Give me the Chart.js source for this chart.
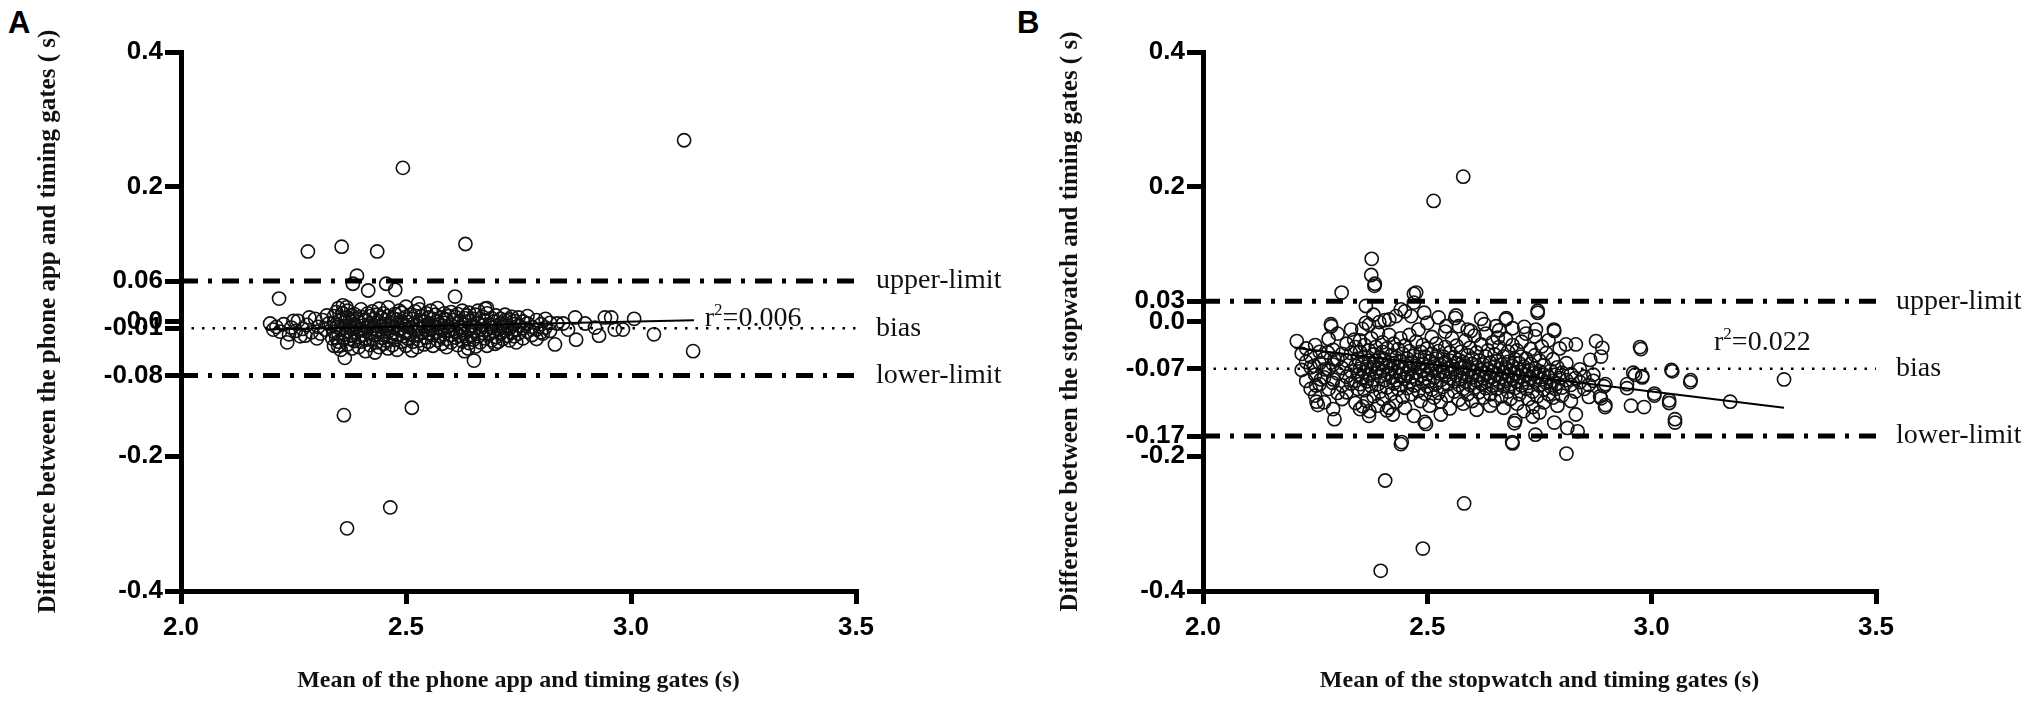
<!DOCTYPE html>
<html>
<head>
<meta charset="utf-8">
<script src="https://cdn.jsdelivr.net/npm/chart.js@4.4.1/dist/chart.umd.min.js"></script>
<style>
  html, body { margin: 0; padding: 0; background: #fff; }
  body { width: 2033px; height: 704px; position: relative; overflow: hidden; }
  .panel { position: absolute; top: 0; }
  .tag { position: absolute; top: 7px; font: bold 31px 'Liberation Sans', Arial, sans-serif; line-height: 31px; color: #000; }
</style>
</head>
<body>
<div class="tag" style="left:8px">A</div>
<div class="tag" style="left:1017px">B</div>
<div class="panel" style="left:0px"><canvas id="cA" width="1016" height="704"></canvas></div>
<div class="panel" style="left:1022px"><canvas id="cB" width="1011" height="704"></canvas></div>
<script>
// ---------------- DATA ----------------
const xTicks = [2.0, 2.5, 3.0, 3.5];
const xTickLabels = ['2.0', '2.5', '3.0', '3.5'];

const phoneTicks = [-0.4, -0.2, -0.08, -0.01, 0.0, 0.06, 0.2, 0.4];
const phoneTickLabels = ['-0.4', '-0.2', '-0.08', '-0.01', '0.0', '0.06', '0.2', '0.4'];
const stopTicks = [-0.4, -0.2, -0.17, -0.07, 0.0, 0.03, 0.2, 0.4];
const stopTickLabels = ['-0.4', '-0.2', '-0.17', '-0.07', '0.0', '0.03', '0.2', '0.4'];

const limitNames = ['upper-limit', 'bias', 'lower-limit'];
const phoneLimits = [0.06, -0.01, -0.08];
const stopLimits = [0.03, -0.07, -0.17];

const phoneFitX = [2.19, 3.14];
const phoneFitY = [-0.012, 0.002];
const stopFitX = [2.204, 3.295];
const stopFitY = [-0.039, -0.128];

const phoneR2 = 'r2=0.006';
const stopR2 = 'r2=0.022';

// Panel A: mean of phone app and timing gates vs difference
const phonePoints = [
  [3.118,0.269],[2.493,0.228],[2.282,0.104],[2.357,0.111],[2.436,0.104],[2.632,0.115],
  [2.391,0.068],[2.382,0.056],[2.416,0.046],[2.456,0.056],[2.476,0.047],[2.218,0.034],
  [2.609,0.037],[2.362,-0.139],[2.513,-0.128],[2.465,-0.276],[2.369,-0.307],[2.651,-0.058],
  [2.364,-0.054],[3.138,-0.044],[3.051,-0.019],[3.007,0.004],[2.942,0.006],[2.956,0.006],
  [2.876,0.006],[2.836,-0.003],[2.849,-0.003],[2.831,-0.034],[2.878,-0.027],[2.929,-0.021],
  [2.982,-0.012],[2.964,-0.012],[2.898,-0.003],[2.86,-0.012],[2.804,-0.018],[2.92,-0.009],
  [2.527,0.027],[2.368,0.021],[2.358,0.012],[2.676,0.019],[2.431,-0.046],[2.513,-0.043],
  [2.638,-0.040],[2.698,-0.033],[2.58,-0.033],[2.349,-0.036],[2.336,-0.025],
  [2.198,-0.003],[2.205,-0.012],[2.212,-0.008],[2.22,-0.015],[2.228,-0.004],[2.236,-0.031],
  [2.24,-0.019],[2.245,-0.009],[2.25,0.001],[2.255,-0.014],[2.26,0.001],[2.265,-0.022],
  [2.27,-0.011],[2.276,-0.021],[2.28,-0.005],[2.285,0.006],[2.29,-0.016],[2.298,0.004],
  [2.302,-0.025],[2.305,-0.008],[2.31,-0.018],[2.315,0.002],[2.32,-0.012],[2.324,0.009],
  [2.328,-0.003],
  [2.34,-0.036],[2.34,-0.015],[2.34,-0.002],[2.34,0.008],
  [2.345,-0.024],[2.345,-0.008],[2.345,0.014],
  [2.35,-0.030],[2.35,-0.018],[2.35,-0.005],[2.35,0.020],
  [2.355,-0.042],[2.355,-0.012],[2.355,0.003],
  [2.36,-0.025],[2.36,-0.009],[2.36,0.012],[2.36,0.024],
  [2.365,-0.019],[2.365,-0.001],
  [2.37,-0.034],[2.37,-0.014],[2.37,0.006],[2.37,0.016],
  [2.375,-0.026],[2.375,-0.007],[2.375,0.002],
  [2.38,-0.040],[2.38,-0.020],[2.38,-0.011],[2.38,0.009],
  [2.385,-0.029],[2.385,-0.004],[2.385,0.011],
  [2.39,-0.016],[2.39,-0.008],[2.39,0.004],
  [2.395,-0.038],[2.395,-0.023],[2.395,-0.001],
  [2.40,-0.030],[2.40,-0.012],[2.40,0.007],[2.40,0.018],
  [2.405,-0.020],[2.405,-0.006],
  [2.41,-0.044],[2.41,-0.027],[2.41,-0.014],[2.41,0.003],
  [2.415,-0.009],[2.415,0.012],
  [2.42,-0.035],[2.42,-0.018],[2.42,-0.003],[2.42,0.008],
  [2.425,-0.025],[2.425,-0.011],[2.425,0.015],
  [2.43,-0.020],[2.43,-0.006],[2.43,0.004],
  [2.435,-0.031],[2.435,-0.013],[2.435,0.010],
  [2.44,-0.038],[2.44,-0.016],[2.44,-0.001],[2.44,0.019],
  [2.445,-0.024],[2.445,-0.008],[2.445,0.006],
  [2.45,-0.033],[2.45,-0.019],[2.45,-0.004],[2.45,0.012],
  [2.455,-0.028],[2.455,-0.011],[2.455,0.002],
  [2.46,-0.040],[2.46,-0.015],[2.46,-0.006],[2.46,0.008],[2.46,0.021],
  [2.465,-0.023],[2.465,-0.002],
  [2.47,-0.035],[2.47,-0.017],[2.47,-0.009],[2.47,0.005],
  [2.475,-0.027],[2.475,0.011],
  [2.48,-0.042],[2.48,-0.020],[2.48,-0.005],[2.48,0.003],
  [2.485,-0.013],[2.485,0.016],
  [2.49,-0.030],[2.49,-0.010],[2.49,0.000],[2.49,0.013],
  [2.495,-0.022],[2.495,-0.004],
  [2.50,-0.036],[2.50,-0.016],[2.50,-0.007],[2.50,0.007],[2.50,0.022],
  [2.505,-0.026],[2.505,-0.001],
  [2.51,-0.019],[2.51,-0.009],[2.51,0.010],
  [2.515,-0.030],[2.515,-0.004],[2.515,0.004],
  [2.52,-0.014],[2.52,0.015],
  [2.525,-0.038],[2.525,-0.021],[2.525,-0.006],
  [2.53,-0.028],[2.53,-0.011],[2.53,0.002],[2.53,0.018],
  [2.535,-0.017],[2.535,0.008],
  [2.54,-0.034],[2.54,-0.008],[2.54,0.000],
  [2.545,-0.024],[2.545,-0.013],[2.545,0.012],
  [2.55,-0.030],[2.55,-0.018],[2.55,-0.003],[2.55,0.006],
  [2.555,-0.010],[2.555,0.016],
  [2.56,-0.036],[2.56,-0.020],[2.56,-0.006],[2.56,0.004],
  [2.565,-0.015],[2.565,0.010],
  [2.57,-0.028],[2.57,-0.009],[2.57,0.000],[2.57,0.020],
  [2.575,-0.022],[2.575,-0.004],
  [2.58,-0.013],[2.58,0.006],
  [2.585,-0.019],[2.585,-0.002],[2.585,0.012],
  [2.59,-0.038],[2.59,-0.026],[2.59,-0.008],[2.59,0.003],
  [2.595,-0.014],[2.595,0.008],
  [2.60,-0.031],[2.60,-0.020],[2.60,-0.005],[2.60,0.014],
  [2.605,-0.011],[2.605,0.002],
  [2.61,-0.024],[2.61,-0.016],[2.61,0.007],
  [2.615,-0.035],[2.615,-0.003],[2.615,0.011],
  [2.62,-0.021],[2.62,-0.009],[2.62,0.000],
  [2.625,-0.029],[2.625,-0.013],[2.625,0.016],
  [2.63,-0.044],[2.63,-0.018],[2.63,-0.005],[2.63,0.005],
  [2.635,-0.025],[2.635,0.009],
  [2.64,-0.032],[2.64,-0.011],[2.64,0.001],[2.64,0.013],
  [2.645,-0.020],[2.645,-0.006],
  [2.65,-0.027],[2.65,-0.014],[2.65,0.004],
  [2.655,-0.037],[2.655,-0.009],[2.655,0.010],
  [2.66,-0.022],[2.66,-0.002],[2.66,0.016],
  [2.665,-0.031],[2.665,-0.012],
  [2.67,-0.017],[2.67,-0.006],[2.67,0.007],
  [2.675,-0.025],[2.675,0.002],
  [2.68,-0.036],[2.68,-0.012],[2.68,0.012],[2.68,0.020],
  [2.685,-0.019],[2.685,-0.004],
  [2.69,-0.028],[2.69,-0.009],[2.69,0.005],
  [2.695,-0.015],[2.695,0.000],
  [2.70,-0.023],[2.70,-0.007],[2.70,0.009],
  [2.705,-0.030],[2.705,-0.012],
  [2.71,-0.018],[2.71,-0.003],[2.71,0.004],
  [2.715,-0.026],[2.715,-0.009],
  [2.72,-0.014],[2.72,0.002],[2.72,0.010],
  [2.725,-0.021],[2.725,-0.006],
  [2.73,-0.028],[2.73,-0.010],[2.73,0.003],
  [2.735,-0.016],[2.735,0.007],
  [2.74,-0.022],[2.74,-0.004],[2.74,0.001],
  [2.745,-0.012],[2.745,-0.031],
  [2.75,-0.018],[2.75,-0.006],[2.75,0.006],
  [2.76,-0.025],[2.76,-0.010],[2.76,0.000],
  [2.77,-0.015],[2.77,-0.003],[2.77,0.008],
  [2.78,-0.020],[2.78,-0.008],
  [2.79,-0.012],[2.79,0.002],[2.79,-0.026],
  [2.80,-0.016],[2.80,-0.004],
  [2.81,-0.009],[2.81,0.004],
  [2.82,-0.014],[2.82,-0.002]
];

// Panel B: mean of stopwatch and timing gates vs difference
const stopPoints = [
  [2.580,0.215],[2.514,0.179],[2.376,0.093],[2.375,0.069],[2.383,0.056],[2.309,0.043],
  [2.470,0.041],[2.475,0.043],[2.382,0.053],[2.406,-0.236],[2.582,-0.270],[2.490,-0.337],
  [2.396,-0.370],[2.810,-0.196],[2.443,-0.179],[2.441,-0.182],[2.689,-0.179],[2.741,-0.168],
  [2.494,-0.149],[2.293,-0.145],[2.696,-0.147],[2.209,-0.029],[2.253,-0.119],[2.256,-0.124],
  [2.252,-0.095],[2.300,-0.106],[2.285,-0.004],[2.286,-0.007],[2.974,-0.038],[3.044,-0.072],
  [3.087,-0.087],[3.052,-0.145],[3.039,-0.117],[2.954,-0.125],[3.006,-0.107],[2.959,-0.076],
  [2.979,-0.081],[2.945,-0.093],[2.897,-0.124],[2.885,-0.111],[2.897,-0.093],[2.782,-0.012],
  [2.746,0.016],[2.716,-0.008],[2.676,0.005],[2.564,0.009],[3.295,-0.086],[3.175,-0.119],
  [3.086,-0.090],[3.046,-0.074],[3.052,-0.150],[3.039,-0.121],[2.983,-0.127],[3.006,-0.110],
  [2.976,-0.041],[2.963,-0.079],[2.979,-0.083],[2.945,-0.099],[2.894,-0.096],[2.887,-0.114],
  [2.896,-0.127],[2.863,-0.057],[2.887,-0.052],[2.876,-0.029],[2.890,-0.039],[2.809,-0.034],
  [2.831,-0.034],[2.783,-0.014],[2.831,-0.138],[2.812,-0.158],[2.835,-0.163],[2.783,-0.150],
  [2.746,0.013],[2.497,-0.152],[2.530,-0.138],[2.562,0.005],[2.675,0.003],[2.627,-0.004],
  [2.653,-0.007],[2.690,-0.181],[2.694,-0.151],[2.742,-0.012],[2.735,-0.141],[2.337,-0.027],
  [2.363,-0.002],[2.393,-0.001],[2.415,0.003],[2.441,0.018],[2.464,0.008],[2.363,0.023],
  [2.493,0.013],[2.542,-0.007],[2.597,-0.014],[2.657,-0.024],[2.709,-0.052],[2.278,-0.046],
  [2.293,-0.056],[2.248,-0.066],[2.271,-0.071],[2.263,-0.086],[2.289,-0.091],[2.356,-0.126],
  [2.371,-0.133],[2.415,-0.128],[2.423,-0.138],
  [2.22,-0.048],[2.22,-0.072],
  [2.23,-0.060],[2.23,-0.088],[2.23,-0.040],
  [2.24,-0.052],[2.24,-0.100],[2.24,-0.068],
  [2.25,-0.079],[2.25,-0.035],[2.25,-0.110],
  [2.26,-0.062],[2.26,-0.045],[2.26,-0.093],
  [2.27,-0.083],[2.27,-0.055],[2.27,-0.120],
  [2.28,-0.071],[2.28,-0.026],[2.28,-0.100],
  [2.29,-0.064],[2.29,-0.086],[2.29,-0.042],[2.29,-0.130],
  [2.30,-0.077],[2.30,-0.056],[2.30,-0.018],
  [2.31,-0.069],[2.31,-0.095],[2.31,-0.048],[2.31,-0.115],
  [2.32,-0.058],[2.32,-0.082],[2.32,-0.033],[2.32,-0.105],
  [2.33,-0.074],[2.33,-0.047],[2.33,-0.092],[2.33,-0.012],
  [2.34,-0.066],[2.34,-0.088],[2.34,-0.038],[2.34,-0.121],
  [2.345,-0.055],[2.345,-0.079],[2.345,-0.100],
  [2.35,-0.070],[2.35,-0.028],[2.35,-0.045],[2.35,-0.093],[2.35,-0.130],
  [2.355,-0.062],[2.355,-0.084],[2.355,-0.011],
  [2.36,-0.075],[2.36,-0.052],[2.36,-0.102],[2.36,-0.035],
  [2.365,-0.067],[2.365,-0.089],[2.365,-0.118],
  [2.37,-0.058],[2.37,-0.043],[2.37,-0.080],[2.37,-0.005],[2.37,-0.140],
  [2.375,-0.071],[2.375,-0.096],[2.375,-0.025],
  [2.38,-0.063],[2.38,-0.086],[2.38,-0.049],[2.38,-0.111],[2.38,0.010],
  [2.385,-0.076],[2.385,-0.038],[2.385,-0.058],
  [2.39,-0.069],[2.39,-0.093],[2.39,-0.017],[2.39,-0.125],
  [2.395,-0.081],[2.395,-0.053],[2.395,-0.104],
  [2.40,-0.064],[2.40,-0.073],[2.40,-0.045],[2.40,-0.031],[2.40,-0.115],
  [2.405,-0.087],[2.405,-0.056],[2.405,0.002],
  [2.41,-0.068],[2.41,-0.098],[2.41,-0.040],[2.41,-0.132],
  [2.415,-0.077],[2.415,-0.061],[2.415,-0.020],
  [2.42,-0.083],[2.42,-0.050],[2.42,-0.107],[2.42,-0.070],
  [2.425,-0.062],[2.425,-0.092],[2.425,-0.033],
  [2.43,-0.075],[2.43,-0.054],[2.43,-0.119],[2.43,-0.087],[2.43,0.008],
  [2.435,-0.068],[2.435,-0.041],[2.435,-0.100],
  [2.44,-0.080],[2.44,-0.059],[2.44,-0.094],[2.44,-0.025],
  [2.445,-0.071],[2.445,-0.112],[2.445,-0.048],
  [2.45,-0.064],[2.45,-0.085],[2.45,-0.036],[2.45,-0.128],[2.45,0.015],
  [2.455,-0.077],[2.455,-0.055],[2.455,-0.099],
  [2.46,-0.070],[2.46,-0.090],[2.46,-0.044],[2.46,-0.020],
  [2.465,-0.082],[2.465,-0.061],[2.465,-0.108],
  [2.47,-0.066],[2.47,-0.051],[2.47,-0.095],[2.47,0.028],[2.47,-0.140],
  [2.475,-0.076],[2.475,-0.030],[2.475,-0.086],
  [2.48,-0.069],[2.48,-0.057],[2.48,-0.103],[2.48,-0.012],
  [2.485,-0.080],[2.485,-0.045],[2.485,-0.118],
  [2.49,-0.063],[2.49,-0.091],[2.49,-0.073],[2.49,-0.035],
  [2.495,-0.084],[2.495,-0.052],[2.495,-0.107],
  [2.50,-0.067],[2.50,-0.078],[2.50,-0.040],[2.50,-0.096],[2.50,-0.002],
  [2.505,-0.059],[2.505,-0.088],[2.505,-0.125],
  [2.51,-0.072],[2.51,-0.048],[2.51,-0.101],[2.51,-0.023],
  [2.515,-0.083],[2.515,-0.063],[2.515,-0.113],
  [2.52,-0.069],[2.52,-0.055],[2.52,-0.092],[2.52,-0.033],
  [2.525,-0.077],[2.525,-0.044],[2.525,-0.106],[2.525,0.006],
  [2.53,-0.065],[2.53,-0.087],[2.53,-0.119],
  [2.535,-0.074],[2.535,-0.052],[2.535,-0.097],
  [2.54,-0.081],[2.54,-0.061],[2.54,-0.038],[2.54,-0.015],
  [2.545,-0.070],[2.545,-0.093],[2.545,-0.110],
  [2.55,-0.058],[2.55,-0.084],[2.55,-0.046],[2.55,-0.129],
  [2.555,-0.075],[2.555,-0.066],[2.555,-0.025],
  [2.56,-0.089],[2.56,-0.053],[2.56,-0.104],[2.56,-0.071],
  [2.565,-0.062],[2.565,-0.080],[2.565,-0.036],
  [2.57,-0.094],[2.57,-0.057],[2.57,-0.116],[2.57,-0.007],
  [2.575,-0.069],[2.575,-0.085],[2.575,-0.045],
  [2.58,-0.076],[2.58,-0.060],[2.58,-0.100],[2.58,-0.122],
  [2.585,-0.066],[2.585,-0.089],[2.585,-0.028],
  [2.59,-0.079],[2.59,-0.050],[2.59,-0.108],[2.59,-0.012],
  [2.595,-0.071],[2.595,-0.094],[2.595,-0.039],
  [2.60,-0.063],[2.60,-0.083],[2.60,-0.055],[2.60,-0.118],
  [2.605,-0.075],[2.605,-0.098],[2.605,-0.021],
  [2.61,-0.068],[2.61,-0.088],[2.61,-0.046],[2.61,-0.131],
  [2.615,-0.079],[2.615,-0.058],[2.615,-0.105],
  [2.62,-0.072],[2.62,-0.092],[2.62,-0.034],[2.62,0.004],
  [2.625,-0.064],[2.625,-0.084],[2.625,-0.113],
  [2.63,-0.077],[2.63,-0.052],[2.63,-0.099],[2.63,-0.018],
  [2.635,-0.070],[2.635,-0.087],[2.635,-0.043],
  [2.64,-0.082],[2.64,-0.061],[2.64,-0.108],[2.64,-0.125],
  [2.645,-0.074],[2.645,-0.095],[2.645,-0.031],
  [2.65,-0.067],[2.65,-0.086],[2.65,-0.049],[2.65,-0.117],
  [2.655,-0.078],[2.655,-0.059],[2.655,-0.100],
  [2.66,-0.071],[2.66,-0.090],[2.66,-0.038],[2.66,-0.013],
  [2.665,-0.083],[2.665,-0.064],[2.665,-0.111],
  [2.67,-0.075],[2.67,-0.096],[2.67,-0.052],[2.67,-0.128],
  [2.675,-0.068],[2.675,-0.088],[2.675,-0.026],
  [2.68,-0.080],[2.68,-0.060],[2.68,-0.104],[2.68,-0.045],
  [2.685,-0.073],[2.685,-0.093],[2.685,-0.115],
  [2.69,-0.085],[2.69,-0.066],[2.69,-0.035],[2.69,-0.010],
  [2.695,-0.077],[2.695,-0.099],[2.695,-0.056],
  [2.70,-0.070],[2.70,-0.089],[2.70,-0.122],[2.70,-0.043],
  [2.705,-0.082],[2.705,-0.062],[2.705,-0.108],
  [2.71,-0.075],[2.71,-0.095],[2.71,-0.030],
  [2.715,-0.086],[2.715,-0.067],[2.715,-0.133],
  [2.72,-0.079],[2.72,-0.100],[2.72,-0.055],[2.72,-0.018],
  [2.725,-0.072],[2.725,-0.091],[2.725,-0.115],
  [2.73,-0.084],[2.73,-0.063],[2.73,-0.041],
  [2.735,-0.077],[2.735,-0.104],[2.735,-0.127],
  [2.74,-0.070],[2.74,-0.089],[2.74,-0.050],[2.74,-0.022],
  [2.745,-0.082],[2.745,-0.111],
  [2.75,-0.074],[2.75,-0.095],[2.75,-0.058],[2.75,-0.135],
  [2.755,-0.086],[2.755,-0.037],
  [2.76,-0.079],[2.76,-0.101],[2.76,-0.065],[2.76,-0.120],
  [2.765,-0.091],[2.765,-0.047],
  [2.77,-0.083],[2.77,-0.108],[2.77,-0.028],
  [2.775,-0.073],[2.775,-0.097],
  [2.78,-0.088],[2.78,-0.113],[2.78,-0.056],
  [2.785,-0.079],[2.785,-0.100],
  [2.79,-0.092],[2.79,-0.068],[2.79,-0.125],
  [2.795,-0.084],[2.795,-0.040],
  [2.80,-0.098],[2.80,-0.076],[2.80,-0.110],
  [2.81,-0.087],[2.81,-0.062],
  [2.82,-0.094],[2.82,-0.078],[2.82,-0.118],
  [2.83,-0.084],[2.83,-0.104],
  [2.84,-0.090],[2.84,-0.071],
  [2.85,-0.100],[2.85,-0.082],
  [2.86,-0.094],[2.86,-0.112],
  [2.87,-0.088],[2.87,-0.079]
];

// ---------------- RENDERING ----------------
const tickFont = { family: "'Liberation Sans', Arial, sans-serif", size: 26, weight: 'bold' };
const titleFont = { family: "'Liberation Serif', 'Times New Roman', serif", size: 25, weight: 'bold' };
const noteFont = "28px 'Liberation Serif', 'Times New Roman', serif";

const annotationPlugin = {
  id: 'blandAltmanNotes',
  afterDatasetsDraw(chart, args, opts) {
    const { ctx } = chart;
    const xs = chart.scales.x, ys = chart.scales.y;
    ctx.save();
    ctx.fillStyle = '#111';
    ctx.font = noteFont;
    ctx.textAlign = 'left';
    ctx.textBaseline = 'middle';
    const xEnd = xs.getPixelForValue(xs.max) + 20;
    opts.limits.forEach((v, i) => {
      ctx.fillText(limitNames[i], xEnd, ys.getPixelForValue(v));
    });
    // r^2 with superscript
    let px = xs.getPixelForValue(opts.r2At[0]);
    const py = ys.getPixelForValue(opts.r2At[1]);
    ctx.textBaseline = 'alphabetic';
    ctx.fillText('r', px, py);
    px += ctx.measureText('r').width;
    ctx.font = "17px 'Liberation Serif', 'Times New Roman', serif";
    ctx.fillText('2', px, py - 11);
    px += ctx.measureText('2').width;
    ctx.font = noteFont;
    ctx.fillText(opts.r2.slice(2), px, py);
    ctx.restore();
  }
};

function makeChart(id, points, yTicks, yLabels, limits, fitX, fitY, r2, r2At, xTitle, yTitle, padRight) {
  const lineDs = (data, dash, width, cap) => ({
    type: 'scatter', data, showLine: true, pointRadius: 0, borderColor: '#000',
    borderWidth: width, borderDash: dash, borderCapStyle: cap || 'butt', fill: false, order: 1
  });
  const datasets = [
    {
      type: 'scatter',
      data: points.map(p => ({ x: p[0], y: p[1] })),
      pointStyle: 'circle', pointRadius: 6.6, pointBorderWidth: 1.6,
      pointBorderColor: '#111', pointBackgroundColor: 'rgba(0,0,0,0)', order: 2
    },
    lineDs([{ x: xTicks[0], y: limits[0] }, { x: xTicks[3], y: limits[0] }], [17, 10, 4, 10], 5),
    lineDs([{ x: xTicks[0], y: limits[1] }, { x: xTicks[3], y: limits[1] }], [2.5, 8], 2.5),
    lineDs([{ x: xTicks[0], y: limits[2] }, { x: xTicks[3], y: limits[2] }], [17, 10, 4, 10], 5),
    lineDs([{ x: fitX[0], y: fitY[0] }, { x: fitX[1], y: fitY[1] }], [], 2)
  ];
  return new Chart(document.getElementById(id), {
    data: { datasets },
    plugins: [annotationPlugin],
    options: {
      responsive: false, animation: false, devicePixelRatio: 1,
      layout: { padding: { left: 0, top: 52, right: padRight, bottom: 0 } },
      plugins: {
        legend: { display: false }, tooltip: { enabled: false },
        blandAltmanNotes: { limits, r2, r2At }
      },
      scales: {
        x: {
          type: 'linear', min: xTicks[0], max: xTicks[xTicks.length - 1],
          afterBuildTicks: s => { s.ticks = xTicks.map(v => ({ value: v })); },
          afterFit: s => { s.height = 113; },
          ticks: { autoSkip: false, maxRotation: 0, color: '#000', font: tickFont, padding: 8,
                   callback: (v, i) => xTickLabels[i] },
          grid: { display: true, drawOnChartArea: false, drawTicks: true, tickLength: 13,
                  tickWidth: 5, lineWidth: 5, color: '#000', tickColor: '#000' },
          border: { display: true, color: '#000', width: 5 },
          title: { display: true, text: xTitle, color: '#111', font: { ...titleFont, size: 24 },
                   padding: { top: 0, bottom: 9 } }
        },
        y: {
          type: 'linear', min: -0.4, max: 0.4,
          afterBuildTicks: s => { s.ticks = yTicks.map(v => ({ value: v })); },
          afterFit: s => { s.width = 181; },
          ticks: { autoSkip: false, color: '#000', font: tickFont, padding: 2,
                   callback: (v, i) => yLabels[i] },
          grid: { display: true, drawOnChartArea: false, drawTicks: true, tickLength: 16,
                  tickWidth: 5, lineWidth: 5, color: '#000', tickColor: '#000' },
          border: { display: true, color: '#000', width: 5 },
          title: { display: true, text: yTitle, color: '#111', font: titleFont,
                   padding: { top: 34, bottom: 0 } }
        }
      }
    }
  });
}

makeChart('cA', phonePoints, phoneTicks, phoneTickLabels, phoneLimits, phoneFitX, phoneFitY,
  phoneR2, [3.164, -0.006],
  'Mean of the phone app and timing gates (s)',
  'Difference between the phone app and timing gates ( s)', 160);

makeChart('cB', stopPoints, stopTicks, stopTickLabels, stopLimits, stopFitX, stopFitY,
  stopR2, [3.139, -0.043],
  'Mean of the stopwatch and timing gates (s)',
  'Difference between the stopwatch and timing gates ( s)', 157);
</script>
</body>
</html>
